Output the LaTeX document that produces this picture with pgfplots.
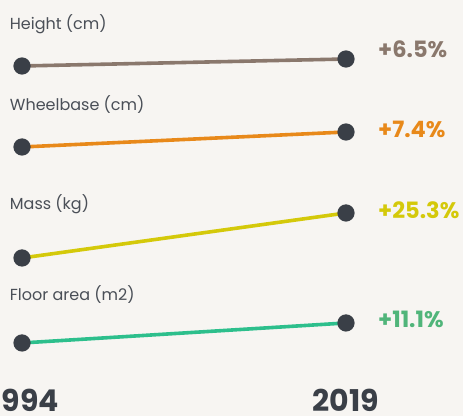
\documentclass[border=0pt]{standalone}
\usepackage{pgfplots}
\pgfplotsset{compat=1.18}
\usepackage{fontspec}
\setmainfont{Poppins}
\definecolor{bg}{HTML}{F7F5F2}
\definecolor{cH}{HTML}{8A786D}
\definecolor{cW}{HTML}{E8891A}
\definecolor{cM}{HTML}{D4C90A}
\definecolor{cF}{HTML}{2DBF8C}
\definecolor{tF}{HTML}{50B57A}
\definecolor{dot}{HTML}{3A3F47}
\definecolor{lab}{HTML}{4A4F57}
\begin{document}
\begin{tikzpicture}
\begin{axis}[
  name=ax,
  x=12.96pt, y=1pt, scale only axis,
  xmin=1992.30, xmax=2028.03, ymin=0, ymax=416,
  y dir=reverse, hide axis, clip=false,
  every axis plot/.append style={line width=3.6pt, mark=*, mark size=6.8pt},
]
\fill[bg] (rel axis cs:0,0) rectangle (rel axis cs:1,1);
\addplot[cH, mark options={fill=dot, draw=dot}] coordinates {(1994,66) (2019,59)};
\addplot[cW, mark options={fill=dot, draw=dot}] coordinates {(1994,147) (2019,132)};
\addplot[cM, mark options={fill=dot, draw=dot}] coordinates {(1994,258) (2019,213)};
\addplot[cF, mark options={fill=dot, draw=dot}] coordinates {(1994,343) (2019,323)};
\begin{scope}[font=\fontsize{16}{19}\selectfont, text=lab, inner sep=0pt]
\node[anchor=base west] at (axis cs:1993.05,29) {Height (cm)};
\node[anchor=base west] at (axis cs:1993.05,111) {Wheelbase (cm)};
\node[anchor=base west] at (axis cs:1993.05,210) {Mass (kg)};
\node[anchor=base west] at (axis cs:1993.05,300.5) {Floor area (m2)};
\end{scope}
\begin{scope}[font=\fontsize{22.5}{26}\bfseries\selectfont, inner sep=0pt]
\node[anchor=base west, text=cH] at (axis cs:2021.47,58) {+6.5\%};
\node[anchor=base west, text=cW] at (axis cs:2021.47,138) {+7.4\%};
\node[anchor=base west, text=cM] at (axis cs:2021.47,219) {+25.3\%};
\node[anchor=base west, text=tF] at (axis cs:2021.47,327.5) {+11.1\%};
\end{scope}
\begin{scope}[font=\fontsize{30}{34}\bfseries\selectfont, text=dot, inner sep=0pt]
\node[anchor=base east] at (axis cs:1996.85,412) {1994};
\node[anchor=base] at (axis cs:2019.0,412) {2019};
\end{scope}
\end{axis}
\pgfresetboundingbox
\useasboundingbox (ax.south west) rectangle (ax.north east);
\end{tikzpicture}
\end{document}
